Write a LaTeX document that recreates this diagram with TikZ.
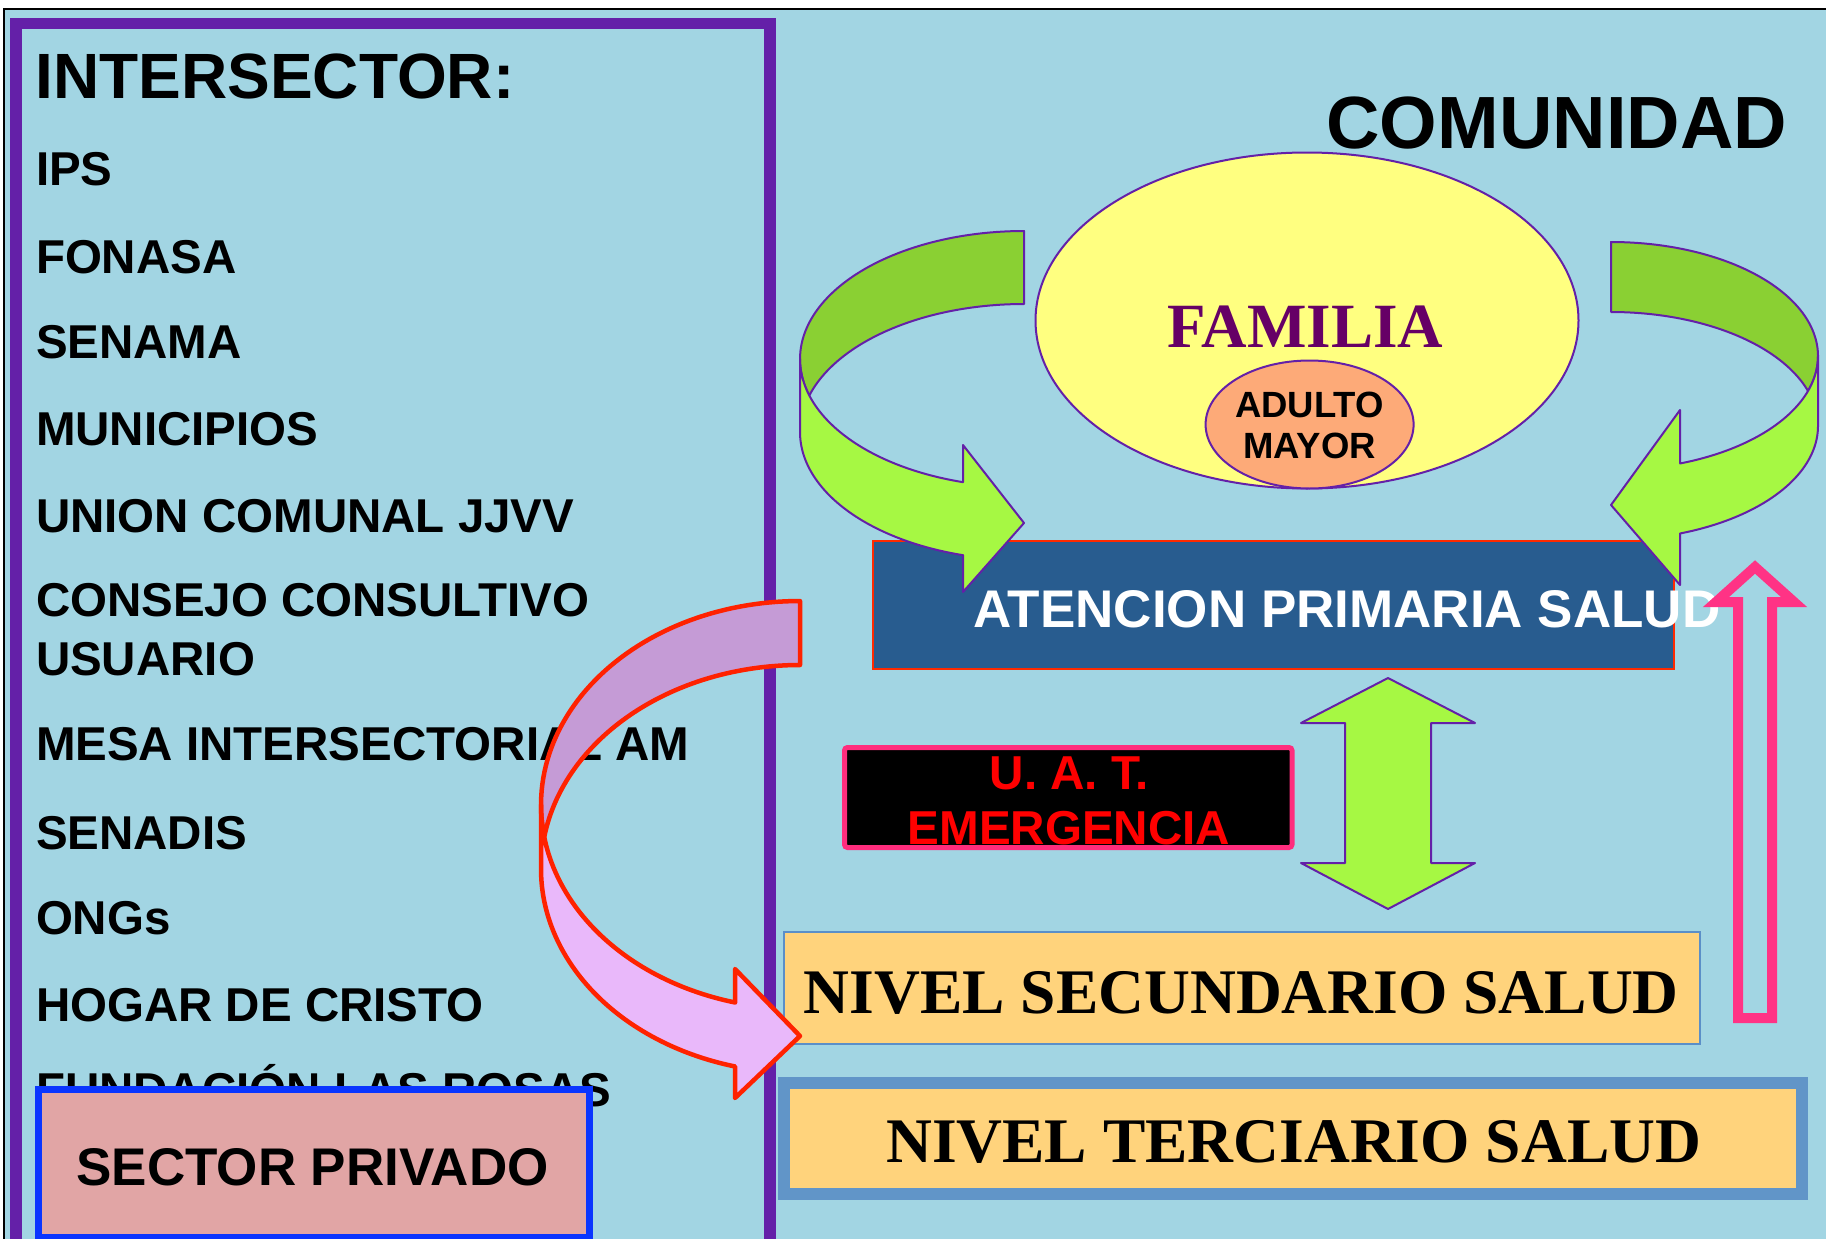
\documentclass[tikz,border=0pt]{standalone}
\usepackage{fontspec}
\setmainfont{Liberation Serif}
\newfontfamily\arialf{Liberation Sans}
\usetikzlibrary{shapes.geometric}
\newcommand{\myfs}[1]{\fontsize{#1}{#1}\selectfont}
\definecolor{bgblue}{HTML}{A2D5E3}
\definecolor{purp}{HTML}{6420A8}
\definecolor{famyel}{HTML}{FFFF80}
\definecolor{famtext}{HTML}{660066}
\definecolor{salmon}{HTML}{FDAA78}
\definecolor{gdark}{HTML}{8AD033}
\definecolor{glight}{HTML}{A6F843}
\definecolor{apsblue}{HTML}{285C8F}
\definecolor{apsborder}{HTML}{FF2A00}
\definecolor{uatborder}{HTML}{FF2D7D}
\definecolor{pinkarrow}{HTML}{FF3385}
\definecolor{nivelfill}{HTML}{FFD37C}
\definecolor{nivelthin}{HTML}{5B8FC8}
\definecolor{nivelthick}{HTML}{6195C8}
\definecolor{sectorfill}{HTML}{E1A5A5}
\definecolor{sectorborder}{HTML}{0A35FF}
\definecolor{lilacdark}{HTML}{C59BD6}
\definecolor{lilaclight}{HTML}{E9B8FA}
\definecolor{lilacborder}{HTML}{FF2200}
\begin{document}
\begin{tikzpicture}[x=1pt,y=-1pt,
  txt/.style={inner sep=0pt, outer sep=0pt},
  listitem/.style={txt, anchor=base west, font={\arialf\bfseries\myfs{47.5}}},
  greenshape/.style={draw=purp, line width=2pt, line join=round},
  lilacshape/.style={draw=lilacborder, line width=4.5pt, line join=round},
  boxnode/.style={rectangle, inner sep=0pt, outer sep=0pt}]
\useasboundingbox (0,0) rectangle (1826,1239);
% background and frame
\fill[white] (0,0) rectangle (1826,1239);
\fill[bgblue] (3.7,9.2) rectangle (1826,1239);
\draw[black, line width=2pt] (3.7,1239) -- (3.7,9.2) -- (1826,9.2);
\draw[purp, line width=11.5pt] (16,23.7) rectangle (770,1270);
% left column
\node[txt, anchor=base west, font={\arialf\bfseries\myfs{64}}] (inter) at (35.5,98.4) {INTERSECTOR:};
\node[listitem] (ips) at (36,185) {IPS};
\node[listitem] (fonasa) at (36,273) {FONASA};
\node[listitem] (senama) at (36,358.5) {SENAMA};
\node[listitem] (munic) at (36,445) {MUNICIPIOS};
\node[listitem] (union) at (36,532) {UNION COMUNAL JJVV};
\node[listitem] (consejo) at (36,616) {CONSEJO CONSULTIVO};
\node[listitem] (usuario) at (36,675.5) {USUARIO};
\node[listitem] (mesa) at (36,760.5) {MESA INTERSECTORIAL AM};
\node[listitem] (senadis) at (36,849) {SENADIS};
\node[listitem] (ongs) at (36,934) {ONGs};
\node[listitem] (hogar) at (36,1021.3) {HOGAR DE CRISTO};
\node[listitem] (fundacion) at (36,1106.3) {FUNDACIÓN LAS ROSAS};
% sector privado
\node[boxnode, draw=sectorborder, line width=7pt, fill=sectorfill, minimum width=550.5pt, minimum height=147.5pt] (sector) at (313.75,1163.25) {};
\node[txt, anchor=base, font={\arialf\bfseries\myfs{53}}] (sectortxt) at (312.5,1185) {SECTOR PRIVADO};
% comunidad
\node[txt, anchor=base west, font={\arialf\bfseries\myfs{74}}] (comunidad) at (1326.5,148.5) {COMUNIDAD};
% familia
\node[ellipse, draw=purp, line width=2pt, fill=famyel, minimum width=543pt, minimum height=336pt, inner sep=0pt] (familia) at (1307,320.5) {};
\node[txt, anchor=base, text=famtext, font={\bfseries\myfs{63}}] (famtxt) at (1305.5,347) {FAMILIA};
\node[ellipse, draw=purp, line width=2pt, fill=salmon, minimum width=208pt, minimum height=128pt, inner sep=0pt] (adulto) at (1309.6,424.5) {};
\node[txt, anchor=base, font={\arialf\bfseries\myfs{36.5}}] (adtxt1) at (1309.5,417) {ADULTO};
\node[txt, anchor=base, font={\arialf\bfseries\myfs{36.5}}] (adtxt2) at (1309.5,458) {MAYOR};
% atencion primaria box
\node[boxnode, draw=apsborder, line width=2.5pt, fill=apsblue, minimum width=801pt, minimum height=128pt] (aps) at (1273.5,605) {};
% left green curved arrow
\path[greenshape, fill=gdark] (1024,231)
  -- plot[domain=270:163.4, samples=60] ({1024+224*cos(\x)},{359+128*sin(\x)})
  -- plot[domain=196.6:270, samples=60] ({1024+224*cos(\x)},{432+128*sin(\x)})
  -- cycle;
\path[greenshape, fill=glight]
  plot[domain=180:105.8, samples=60] ({1024+224*cos(\x)},{359+128*sin(\x)})
  -- (963,445) -- (1024,523) -- (963,592) -- (963,555.2)
  -- plot[domain=105.8:180, samples=60] ({1024+224*cos(\x)},{432+128*sin(\x)})
  -- cycle;
% right green curved arrow
\path[greenshape, fill=gdark] (1611,242)
  -- plot[domain=-90:17.9, samples=60] ({1611+207*cos(\x)},{356+114*sin(\x)})
  -- plot[domain=-17.9:-90, samples=60] ({1611+207*cos(\x)},{426+114*sin(\x)})
  -- cycle;
\path[greenshape, fill=glight]
  plot[domain=0:70.5, samples=60] ({1611+207*cos(\x)},{356+114*sin(\x)})
  -- (1680,410) -- (1611,505) -- (1680,585) -- (1680,533.5)
  -- plot[domain=70.5:0, samples=60] ({1611+207*cos(\x)},{426+114*sin(\x)})
  -- cycle;
\node[txt, anchor=base west, text=white, font={\arialf\bfseries\myfs{53}}] (apstxt) at (973.5,627) {ATENCION PRIMARIA SALUD};
% pink up arrow
\draw[pinkarrow, line width=10pt, line join=miter] (1738,1018) -- (1738,602) -- (1716,602) -- (1755,567) -- (1794,602) -- (1772,602) -- (1772,1018) -- cycle;
% green double arrow
\path[greenshape, fill=glight] (1388,678) -- (1475,723) -- (1431,723) -- (1431,863) -- (1475,863) -- (1388,909) -- (1301,863) -- (1345,863) -- (1345,723) -- (1301,723) -- cycle;
% UAT box
\node[boxnode, draw=uatborder, line width=5pt, fill=black, rounded corners=3pt, minimum width=447.5pt, minimum height=100pt] (uat) at (1068.25,797.5) {};
\node[txt, anchor=base, text=red, font={\arialf\bfseries\myfs{47.6}}] (uattxt1) at (1069,789) {U. A. T.};
\node[txt, anchor=base, text=red, font={\arialf\bfseries\myfs{47.6}}] (uattxt2) at (1069,844.5) {EMERGENCIA};
% nivel secundario
\node[boxnode, draw=nivelthin, line width=2pt, fill=nivelfill, minimum width=916.5pt, minimum height=112pt] (nsec) at (1241.75,988) {};
\node[txt, anchor=base, font={\bfseries\myfs{63.5}}] (nsectxt) at (1241.4,1013.5) {NIVEL SECUNDARIO SALUD};
% nivel terciario
\node[boxnode, draw=nivelthick, line width=12pt, fill=nivelfill, minimum width=1018pt, minimum height=111pt] (nter) at (1293,1138.5) {};
\node[txt, anchor=base, font={\bfseries\myfs{63.5}}] (ntertxt) at (1293.7,1162) {NIVEL TERCIARIO SALUD};
% lilac curved arrow
\path[lilacshape, fill=lilacdark] (800,601)
  -- plot[domain=270:170.97, samples=60] ({800+259*cos(\x)},{805+204*sin(\x)})
  -- plot[domain=189.03:270, samples=60] ({800+259*cos(\x)},{869+204*sin(\x)})
  -- cycle;
\path[lilacshape, fill=lilaclight]
  plot[domain=180:104.5, samples=60] ({800+259*cos(\x)},{805+204*sin(\x)})
  -- (735,969) -- (800,1036) -- (735,1098) -- (735,1066.5)
  -- plot[domain=104.5:180, samples=60] ({800+259*cos(\x)},{869+204*sin(\x)})
  -- cycle;
\end{tikzpicture}
\end{document}
